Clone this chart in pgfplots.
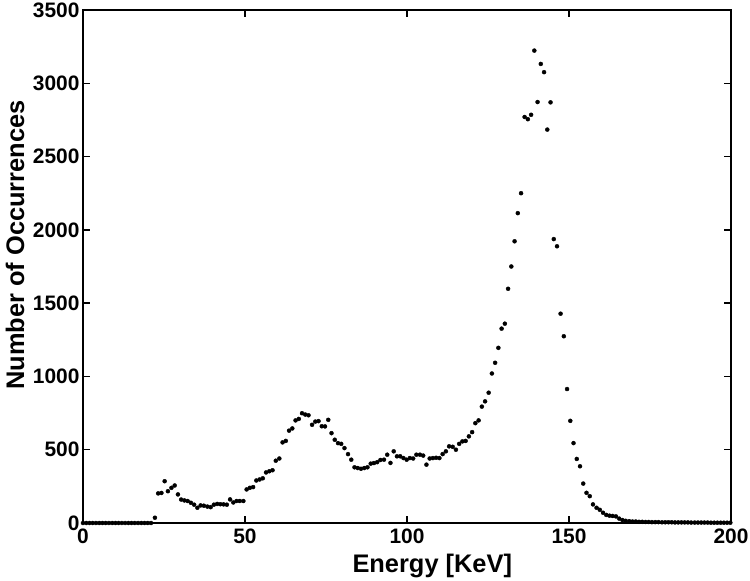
\documentclass[border=0pt]{standalone}
\usepackage{pgfplots}
\pgfplotsset{compat=1.18}
\usepackage{fontspec}
\setmainfont{Liberation Sans}
\begin{document}
\begin{tikzpicture}[x=1bp,y=1bp]
\begin{axis}[
  name=ax,
  scale only axis,
  width=648bp, height=513bp,
  xmin=0, xmax=200, ymin=0, ymax=3500,
  xtick={0,50,...,200}, ytick={0,500,...,3500},
  tick align=inside,
  major tick length=7bp,
  axis line style={line width=1.8bp},
  every tick/.style={black, line width=1.5bp},
  /pgf/number format/assume math mode=true,
  /pgf/number format/set thousands separator={},
  ticklabel style={font=\fontsize{21}{24}\selectfont\bfseries},
  xticklabel style={yshift=-2bp},
  label style={font=\fontsize{25.5}{28}\selectfont\bfseries},
  xlabel={Energy [KeV]},
  ylabel={Number of Occurrences},
  xlabel style={at={(axis description cs:0.539,0)}, anchor=north, inner sep=0pt, yshift=-31bp},
  ylabel style={at={(axis description cs:-0.105,0.542)}, anchor=center, inner sep=0pt},
  scaled y ticks=false,
]
\addplot[only marks, mark=*, mark size=2bp, black] coordinates {
(0,0)(1,0)(2,0)(3,0)(4,0)(5,0)(6,0)(7,0)(8,0)(9,0)(10,0)
(11,0)(12,0)(13,0)(14,0)(15,0)(16,0)(17,0)(18,0)(19,0)(20,0)(21,0)
(22.2,36)(23.2,202)(24.2,205)(25.2,285)(26.2,217)(27.3,240)(28.3,256)(29.3,195)(30.3,160)
(31.3,154)(32.3,150)(33.3,138)(34.3,125)(35.3,104)(36.3,120)(37.3,118)(38.4,112)(39.4,108)(40.4,125)
(41.4,130)(42.4,128)(43.4,127)(44.4,125)(45.4,161)(46.4,140)(47.4,150)(48.4,150)(49.5,150)(50.5,229)
(51.5,240)(52.5,245)(53.5,290)(54.5,297)(55.5,305)(56.5,345)(57.5,353)(58.5,360)(59.5,425)(60.6,440)
(61.6,550)(62.6,560)(63.6,630)(64.6,645)(65.6,700)(66.6,710)(67.6,749)(68.6,740)(69.6,735)(70.7,670)
(71.7,692)(72.7,695)(73.7,660)(74.7,659)(75.7,704)(76.7,613)(77.7,568)(78.7,545)(79.7,540)(80.7,511)
(81.8,470)(82.8,432)(83.8,380)(84.8,375)(85.8,370)(86.8,375)(87.8,380)(88.8,405)(89.8,409)(90.8,415)
(91.8,430)(92.9,432)(93.9,466)(94.9,410)(95.9,489)(96.9,455)(97.9,455)(98.9,443)(99.9,432)(100.9,443)
(101.9,440)(102.9,466)(104.0,466)(105.0,460)(106.0,398)(107.0,440)(108.0,443)(109.0,445)(110.0,443)(111.0,470)
(112.0,489)(113.0,523)(114.1,520)(115.1,500)(116.1,540)(117.1,557)(118.1,560)(119.1,591)(120.1,620)(121.1,681)
(122.1,700)(123.1,794)(124.1,830)(125.2,889)(126.2,1020)(127.2,1093)(128.2,1195)(129.2,1326)(130.2,1360)(131.2,1598)
(132.2,1750)(133.2,1922)(134.2,2114)(135.2,2250)(136.3,2770)(137.3,2755)(138.3,2785)(139.3,3223)(140.3,2872)(141.3,3132)
(142.3,3076)(143.3,2684)(144.3,2870)(145.3,1937)(146.3,1888)(147.4,1428)(148.4,1274)(149.4,914)(150.4,697)(151.4,545)
(152.4,437)(153.4,387)(154.4,269)(155.4,206)(156.4,183)(157.4,127)(158.5,104)(159.5,90)(160.5,70)(161.5,55)
(162.5,50)(163.5,48)(164.5,45)(165.5,30)(166.5,20)(167.5,15)(168.6,12)(169.6,10)(170.6,10)(171.6,8)
(172.6,8)(173.6,7)(174.6,7)(175.6,6)(176.6,6)(177.6,6)(178.7,5)(179.7,5)(180.7,5)(181.7,5)
(182.7,4)(183.7,4)(184.7,4)(185.7,4)(186.7,4)(187.7,3)(188.8,3)(189.8,3)(190.8,3)(191.8,3)
(192.8,3)(193.8,2)(194.8,2)(195.8,2)(196.8,2)(197.8,2)(198.8,2)(199.8,2)
};
\end{axis}
\pgfresetboundingbox
\path ([xshift=-83bp,yshift=-58bp]ax.south west) rectangle ([xshift=19bp,yshift=10bp]ax.north east);
\end{tikzpicture}
\end{document}
